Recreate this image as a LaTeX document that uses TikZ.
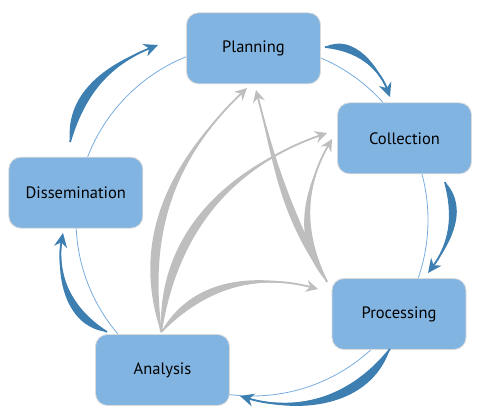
\documentclass[tikz,border=0pt]{standalone}
\usepackage{fontspec}
\setmainfont{PT Sans}
\usetikzlibrary{arrows.meta}
\usepackage{xcolor}

\definecolor{boxfill}{RGB}{130,180,225}
\definecolor{cycleblue}{RGB}{62,127,178}
\definecolor{ringline}{RGB}{120,172,222}
\definecolor{flowgray}{RGB}{190,190,190}

\tikzset{
  stage/.style={draw=black!14, line width=0.8pt, fill=boxfill, rounded corners=12pt,
    minimum width=134pt, minimum height=71pt, text=black,
    font=\fontsize{16.5}{19}\selectfont},
  ring/.style={draw=ringline, line width=0.8pt},
  cycletip/.style={draw=cycleblue, line width=1.8pt,
    -{Stealth[length=14pt,width=13pt,inset=4.5pt]}},
  flowtip/.style={draw=flowgray, line width=1.8pt,
    -{Stealth[length=12pt,width=12pt,inset=4pt]}}
}

% tapered arrow: tail, tip, bend, outer out, outer in
\newcommand{\cyclearrow}[5]{%
  \fill[cycleblue] (#1) to[out=#4,in=#5,relative] (#2) to[bend right=#3] (#1);
  \draw[cycletip] (#1) to[bend left=#3] (#2);}
\newcommand{\flowarrow}[5]{%
  \fill[flowgray] (#1) to[out=#4,in=#5,relative] (#2) to[bend right=#3] (#1);
  \draw[flowtip] (#1) to[bend left=#3] (#2);}

\begin{document}
\begin{tikzpicture}[x=1pt,y=1pt]
\useasboundingbox (0,0) rectangle (480,419);

\coordinate (hub) at (252,199);
\draw[ring] (hub) circle[radius=176];

% stages
\node[stage] (plan) at (253.5,370.7) {Planning};
\node[stage] (coll) at (404.5,280.7) {Collection};
\node[stage] (proc) at (399,105) {Processing};
\node[stage] (anal) at (162.5,49) {Analysis};
\node[stage] (diss) at (75.8,226.3) {Dissemination};

% ends of the gray arrows
\coordinate (analtop) at (161,87);
\coordinate (proctop) at (327,137);
\coordinate (planA) at (247,331);
\coordinate (planB) at (256,329);
\coordinate (collA) at (327,286);
\coordinate (collB) at (332,280);
\coordinate (procA) at (318,130);

\flowarrow{analtop}{planA}{27}{38}{152}
\flowarrow{analtop}{collA}{31}{42}{148}
\flowarrow{analtop}{procA}{30}{45}{149}
\flowarrow{proctop}{planB}{6}{16}{173}
\flowarrow{proctop}{collB}{28}{44}{151}

% ends of the cycle arrows
\coordinate (dissout) at (70,277);
\coordinate (planin) at (158,374);
\coordinate (planout) at (325,372);
\coordinate (collin) at (390,322);
\coordinate (collout) at (445,237);
\coordinate (procin) at (428,146);
\coordinate (procout) at (390,70);
\coordinate (analin) at (240,23);
\coordinate (analout) at (107,87);
\coordinate (dissin) at (63,186);

\cyclearrow{dissout}{planin}{26}{48}{151}
\cyclearrow{planout}{collin}{32}{64}{145}
\cyclearrow{collout}{procin}{26}{54}{151}
\cyclearrow{procout}{analin}{34}{54}{143}
\cyclearrow{analout}{dissin}{34}{59}{143}
\end{tikzpicture}
\end{document}
